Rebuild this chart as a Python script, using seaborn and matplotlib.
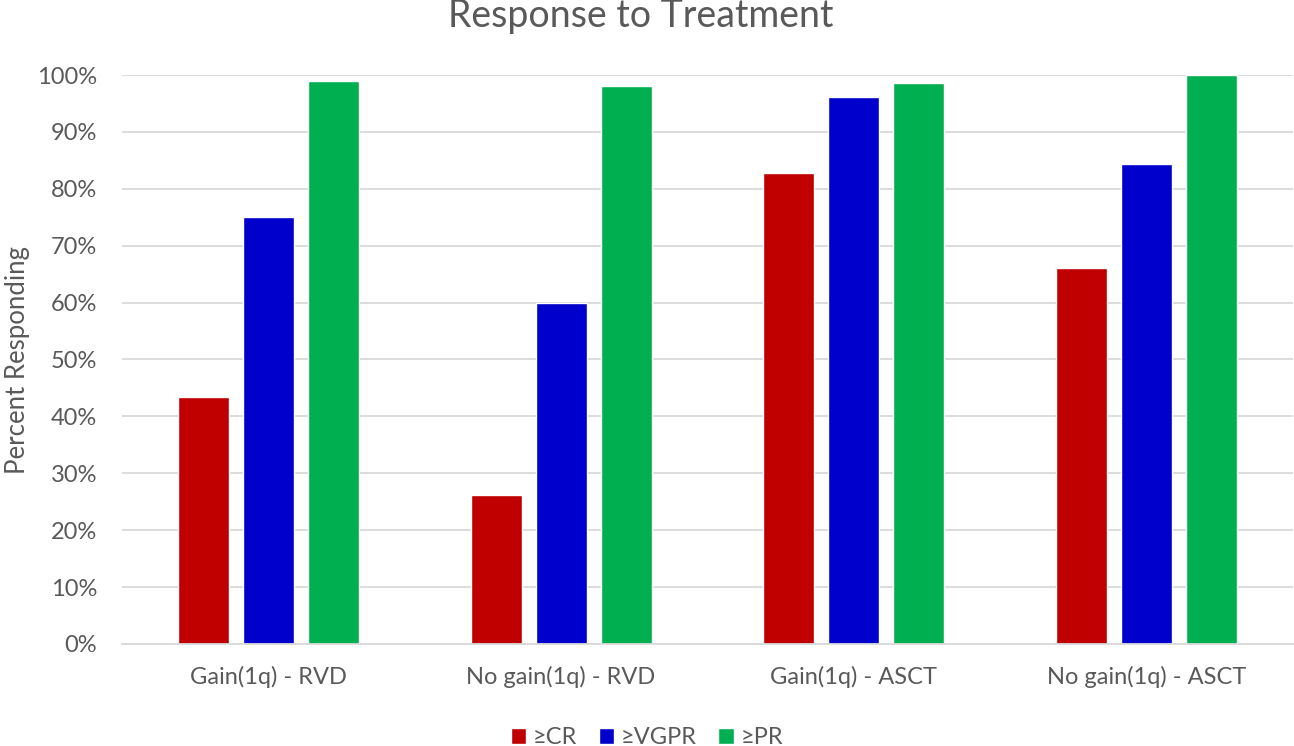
import matplotlib
matplotlib.use("Agg")
import matplotlib.pyplot as plt
import matplotlib.ticker as mticker
import pandas as pd
import seaborn as sns

groups = ["Gain(1q) - RVD", "No gain(1q) - RVD", "Gain(1q) - ASCT", "No gain(1q) - ASCT"]
responses = ["≥CR", "≥VGPR", "≥PR"]
cr = [0.434, 0.262, 0.828, 0.661]
vgpr = [0.750, 0.599, 0.961, 0.844]
pr = [0.989, 0.981, 0.986, 1.000]
colors = ["#C00000", "#0000CC", "#00B050"]

df = pd.DataFrame({
    "group": groups * 3,
    "response": [r for r in responses for _ in groups],
    "value": cr + vgpr + pr,
})

sns.set_style("white")
plt.rcParams["font.family"] = ["Lato", "DejaVu Sans"]
text_color = "#595959"

fig = plt.figure(figsize=(12.94, 7.46), dpi=100)
ax = fig.add_axes([122 / 1294, 1 - 644 / 746, 1171 / 1294, (644 - 75) / 746])

sns.barplot(data=df, x="group", y="value", hue="response", order=groups,
            hue_order=responses, palette=colors, width=0.666, gap=0.215,
            saturation=1, ax=ax, legend=True)

ax.set_ylim(0, 1)
ax.set_xlim(-0.5, 3.5)
ax.yaxis.set_major_locator(mticker.MultipleLocator(0.1))
ax.yaxis.set_major_formatter(mticker.FuncFormatter(lambda v, _: f"{v * 100:.0f}%"))
ax.grid(axis="y", color="#D9D9D9", linewidth=1.3)
ax.set_axisbelow(True)
for side in ["top", "right", "left"]:
    ax.spines[side].set_visible(False)
ax.spines["bottom"].set_color("#D9D9D9")
ax.spines["bottom"].set_linewidth(1.3)
ax.tick_params(axis="both", length=0, labelsize=17, labelcolor=text_color)
ax.tick_params(axis="y", pad=18)
ax.tick_params(axis="x", pad=16)
ax.set_xlabel("")
ax.set_ylabel("Percent Responding", fontsize=18.5, color=text_color, labelpad=5)

fig.text(0.495, 0.978, "Response to Treatment", ha="center", va="center",
         fontsize=27, color=text_color)

ax.legend_.remove()
handles, labels = ax.get_legend_handles_labels()
fig.legend(handles, labels, loc="center", bbox_to_anchor=(0.5, 0.011), ncol=3,
           frameon=False, fontsize=17, labelcolor=text_color, handlelength=0.65,
           handleheight=0.65, handletextpad=0.3, columnspacing=0.9)

fig.savefig("out.png", dpi=100)
